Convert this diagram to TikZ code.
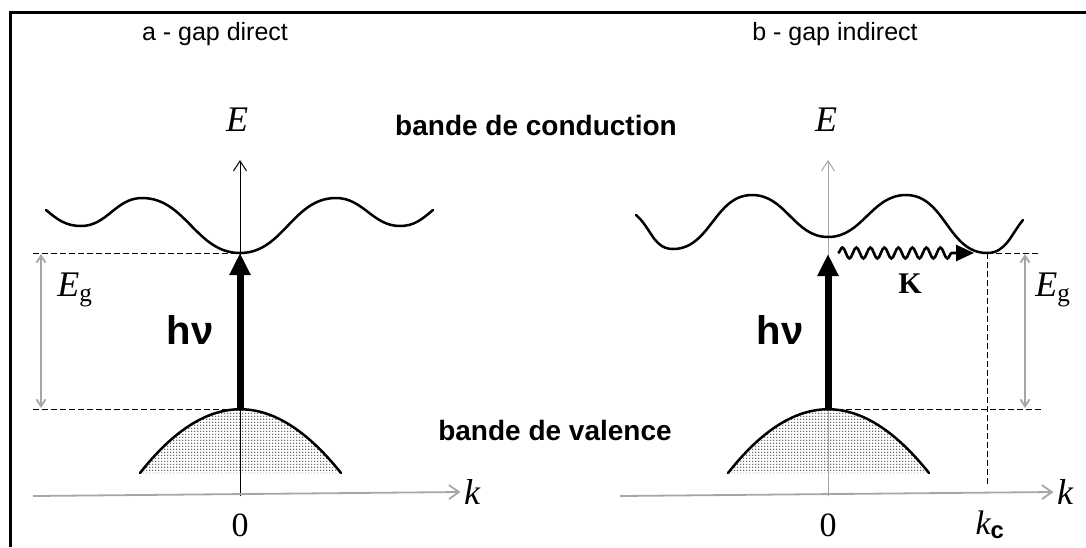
\documentclass[tikz,border=0pt]{standalone}
\usepackage{fontspec}
\setmainfont{Liberation Serif}
\setsansfont{Liberation Sans}
\usetikzlibrary{arrows.meta,patterns,decorations.pathmorphing}

\pgfdeclarepatternformonly{finedots}{\pgfqpoint{-1pt}{-1pt}}{\pgfqpoint{2pt}{2pt}}{\pgfqpoint{3pt}{3pt}}{%
  \pgfpathcircle{\pgfqpoint{0pt}{0pt}}{0.7pt}\pgfusepath{fill}}

\tikzset{
  band/.style={line width=2.5pt,line cap=round},
  eaxis/.style={line width=1pt,-{Straight Barb[length=10pt,width=13pt]}},
  kaxis/.style={gray!70,line width=1.8pt,-{Straight Barb[length=10pt,width=14pt]}},
  guide/.style={line width=1pt,dash pattern=on 6pt off 3pt},
  gapline/.style={gray!70,line width=1.8pt,{Straight Barb[length=7pt,width=9pt]}-{Straight Barb[length=7pt,width=9pt]}},
  photon/.style={line width=7pt,-{Triangle[length=22pt,width=20pt]}},
  phonon/.style={line width=2.6pt,decorate,decoration={snake,amplitude=5.5pt,segment length=14pt,post length=20pt},-{Triangle[length=18pt,width=16pt]}},
  title/.style={font=\fontsize{25}{29}\selectfont\sffamily},
  bandlbl/.style={font=\fontsize{28}{32}\selectfont\sffamily\bfseries},
  symb/.style={font=\fontsize{36}{40}\selectfont\itshape},
  numlbl/.style={font=\fontsize{34}{38}\selectfont},
  hnu/.style={font=\fontsize{40}{44}\selectfont\sffamily\bfseries}
}

\begin{document}
\begin{tikzpicture}[x=1pt,y=-1pt]
  \useasboundingbox (0,0) rectangle (1086,547);
  \draw[line width=3pt] (10,547) -- (10,12) -- (1086,12);

  % titles and band names
  \node[title] (ttlA) at (215,34) {a - gap direct};
  \node[title] (ttlB) at (835,34) {b - gap indirect};
  \node[bandlbl] (cond) at (536,125) {bande de conduction};
  \node[bandlbl] (val) at (555,430) {bande de valence};

  % --- a : direct gap
  \coordinate (oA) at (240,496);
  \coordinate (EtopA) at (240,160);
  \coordinate (cminA) at (240,253);
  \coordinate (vtopA) at (240,409);
  \coordinate (kstA) at (33,496);
  \node[symb] (EA) at (237,120) {E};
  \node[symb] (kA) at (472,492) {k};
  \node[numlbl] (zeroA) at (240,525) {0};
  \fill[pattern=finedots,pattern color=black!80] (140,473) .. controls (207,388) and (273,388) .. (341,473) -- cycle;
  \draw[eaxis] (oA) -- (EtopA);
  \draw[kaxis] (kstA) -- (kA.west);
  \draw[band] (46,210) to[out=-40,in=180] (81,226) to[out=0,in=180] (142,198)
    to[out=0,in=180] (cminA) to[out=0,in=180] (336,198) to[out=0,in=180] (400,226)
    to[out=0,in=-140] (433,210);
  \draw[band] (140,473) .. controls (207,388) and (273,388) .. (341,473);
  \coordinate (gtA) at (33,253);
  \coordinate (gbA) at (33,409);
  \draw[guide] (gtA) -- (cminA);
  \draw[guide] (gbA) -- (vtopA);
  \coordinate (egtA) at (41,254);
  \coordinate (egbA) at (41,408);
  \draw[gapline] (egtA) -- (egbA);
  \node[symb] (EgA) at (75,290) {E\textsubscript{\upshape g}};
  \draw[photon] (vtopA) -- (cminA);
  \node[hnu] (hnuA) at (190,330) {h\kern1ptν};

  % --- b : indirect gap
  \coordinate (oB) at (828,496);
  \coordinate (EtopB) at (828,160);
  \coordinate (cmidB) at (828,237);
  \coordinate (vtopB) at (828,409);
  \coordinate (cminB) at (987,253);
  \coordinate (kstB) at (620,496);
  \node[symb] (EB) at (826,120) {E};
  \node[symb] (kB) at (1065,492) {k};
  \node[numlbl] (zeroB) at (828,525) {0};
  \node[numlbl] (kc) at (990,525) {\itshape k\textsubscript{\upshape\sffamily\bfseries c}};
  \fill[pattern=finedots,pattern color=black!80] (728,473) .. controls (795,388) and (861,388) .. (929,473) -- cycle;
  \draw[eaxis,gray!70] (oB) -- (EtopB);
  \draw[kaxis] (kstB) -- (kB.west);
  \draw[band] (636,215) to[out=-40,in=180] (673,249) to[out=0,in=180] (752,195)
    to[out=0,in=180] (cmidB) to[out=0,in=180] (906,195) to[out=0,in=180] (cminB)
    to[out=0,in=-130] (1023,220);
  \draw[band] (728,473) .. controls (795,388) and (861,388) .. (929,473);
  \coordinate (gtB) at (1041,253);
  \coordinate (gbB) at (1041,409);
  \coordinate (kcB) at (987,485);
  \draw[guide] (cminB) -- (gtB);
  \draw[guide] (vtopB) -- (gbB);
  \draw[guide] (cminB) -- (kcB);
  \coordinate (egtB) at (1025,254);
  \coordinate (egbB) at (1025,408);
  \draw[gapline] (egtB) -- (egbB);
  \node[symb] (EgB) at (1053,290) {E\textsubscript{\upshape g}};
  \coordinate (ctopB) at (828,254);
  \draw[photon] (vtopB) -- (ctopB);
  \node[hnu] (hnuB) at (780,330) {h\kern1ptν};
  \coordinate (phA) at (838,253);
  \coordinate (phB) at (974,253);
  \draw[phonon] (phA) -- (phB);
  \node[font=\fontsize{30}{34}\selectfont\bfseries] (Kq) at (910,284) {K};
\end{tikzpicture}
\end{document}
